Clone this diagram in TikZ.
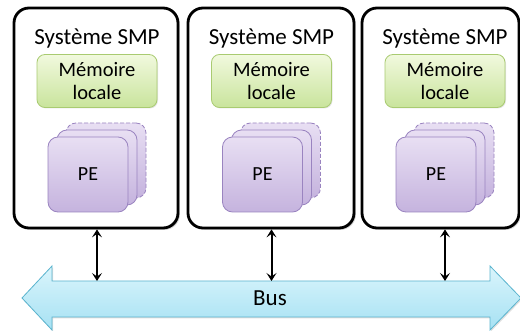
\documentclass[tikz,border=0pt]{standalone}
\usepackage{fontspec}
\setmainfont{Carlito}
\usetikzlibrary{shadows,arrows.meta}
\definecolor{peTop}{HTML}{E8DFF3}
\definecolor{peBot}{HTML}{C5B3DE}
\definecolor{peLine}{HTML}{9A84C0}
\definecolor{memTop}{HTML}{F1F9DE}
\definecolor{memBot}{HTML}{C9E49C}
\definecolor{memLine}{HTML}{A9CB71}
\definecolor{busTop}{HTML}{DAF5FC}
\definecolor{busBot}{HTML}{A6E1F3}
\definecolor{busLine}{HTML}{5AB4CE}
\tikzset{
  smpbox/.style={draw=black, line width=2.8pt, fill=white, rounded corners=15pt,
    minimum width=#1, minimum height=220pt, inner sep=0pt,
    drop shadow={shadow xshift=1.8pt, shadow yshift=-1.8pt, opacity=0.35}},
  title/.style={font=\fontsize{23}{27}\selectfont, inner sep=0pt},
  membox/.style={draw=memLine, line width=0.8pt, top color=memTop, bottom color=memBot,
    rounded corners=8pt, minimum width=120pt, minimum height=53pt, inner sep=0pt,
    align=center, font=\fontsize{20.5}{23}\selectfont,
    drop shadow={shadow xshift=1pt, shadow yshift=-1pt, opacity=0.2}},
  pebox/.style={draw=peLine, line width=0.8pt, top color=peTop, bottom color=peBot,
    rounded corners=10pt, minimum width=80pt, minimum height=75pt, inner sep=0pt,
    font=\fontsize{20}{24}\selectfont},
  peback/.style={pebox, dashed, dash pattern=on 4pt off 2pt},
  link/.style={line width=2pt, {Stealth[length=8pt,width=10pt,inset=3.5pt]}-{Stealth[length=8pt,width=10pt,inset=3.5pt]}},
}
\begin{document}
\begin{tikzpicture}[x=1pt,y=-1pt]
\useasboundingbox (0,0) rectangle (520,331);
% systems
\node[smpbox=164pt] (s1) at (96,118) {};
\node[smpbox=166pt] (s2) at (271,118) {};
\node[smpbox=157pt] (s3) at (440.5,118) {};
\foreach \i/\cx in {1/97,2/271.5,3/445}{
  \node[title] (t\i) at (\cx,38) {Système SMP};
  \node[membox] (m\i) at (\cx,81) {Mémoire\\locale};
  \node[peback] (pc\i) at (\cx+9,160.5) {};
  \node[pebox] (pb\i) at (\cx,167.5) {};
  \node[pebox] (pa\i) at (\cx-9,174.5) {PE};
}
% bus
\path[draw=busLine, line width=0.8pt, top color=busTop, bottom color=busBot,
  drop shadow={shadow xshift=1pt, shadow yshift=-1.5pt, opacity=0.25}]
  (22,298) -- (52,266) -- (52,281) -- (490,281) -- (490,266) -- (521,298)
  -- (490,330) -- (490,317) -- (52,317) -- (52,330) -- cycle;
\node[title] (bus) at (270,298) {Bus};
\coordinate (bustop) at (270,281);
% links
\foreach \i in {1,2,3}{
  \draw[link] (s\i.south -| m\i) -- (m\i |- bustop);
}
\end{tikzpicture}
\end{document}
